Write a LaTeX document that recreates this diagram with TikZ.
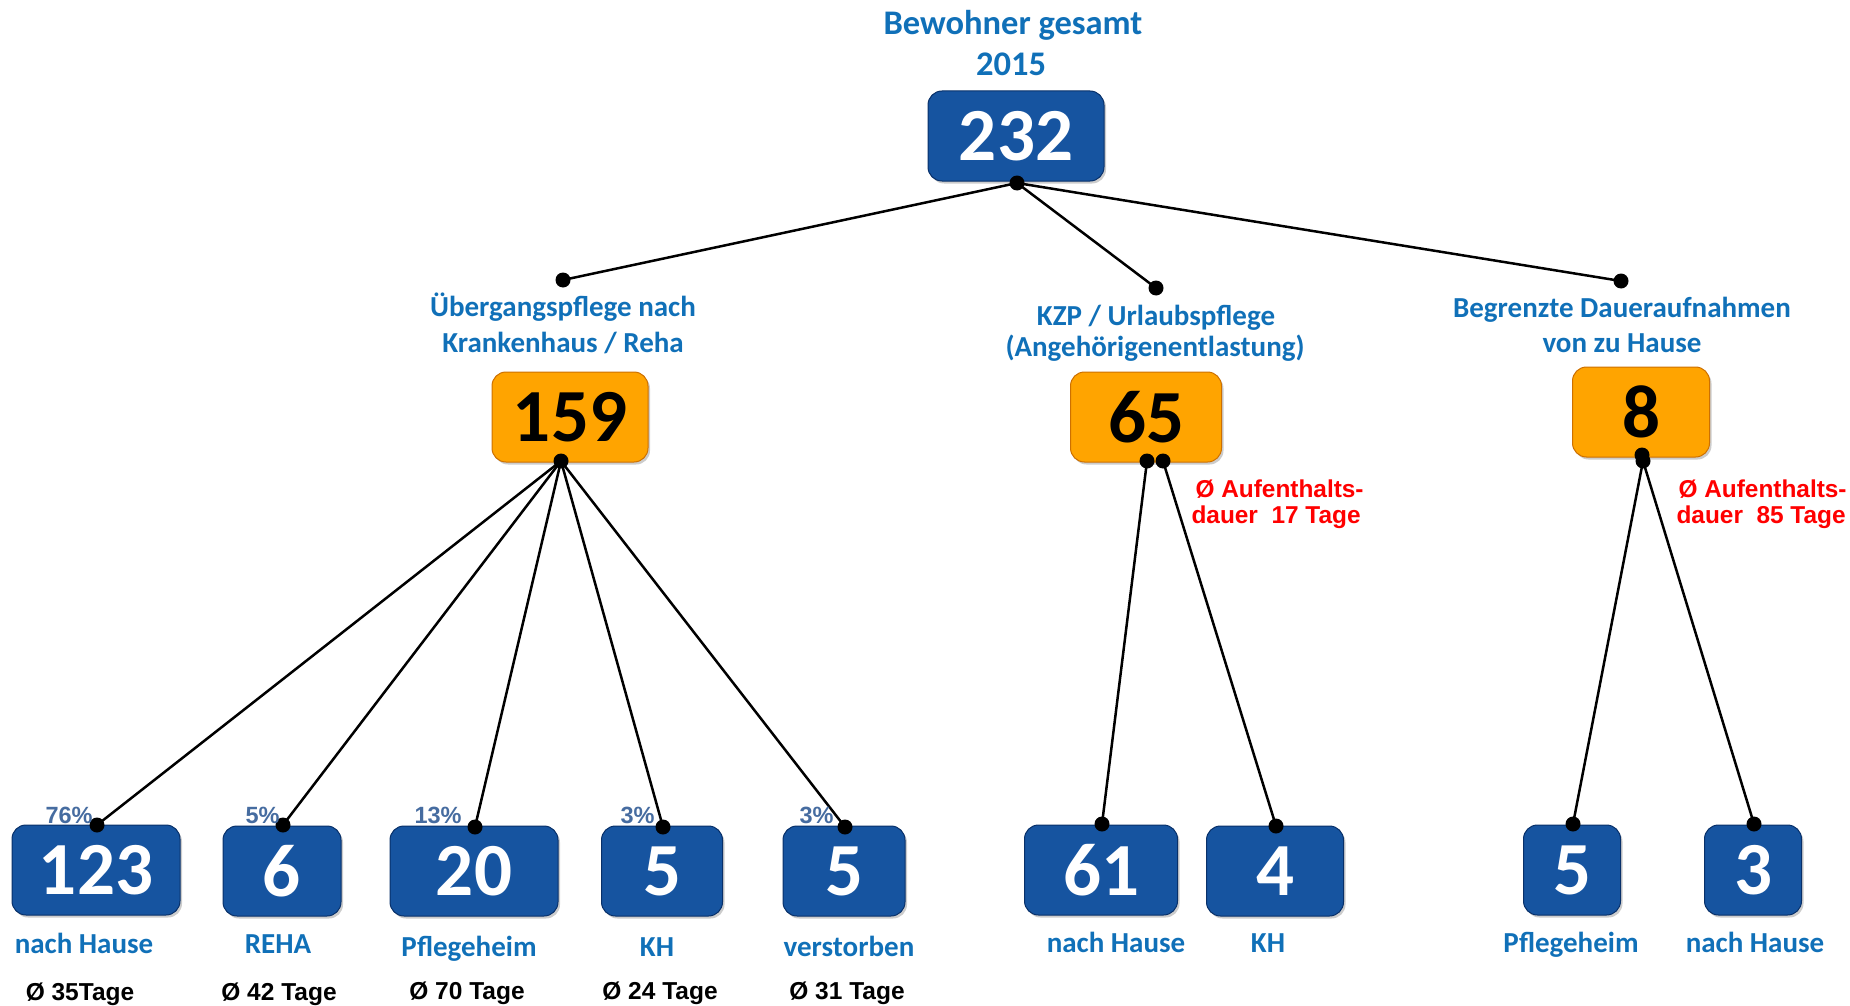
\documentclass[tikz,border=0pt]{standalone}
\usepackage{fontspec}
\setmainfont{Carlito}
\newfontfamily\arialf{Liberation Sans}
\usetikzlibrary{shadows}
\definecolor{bluemain}{RGB}{22,84,160}
\definecolor{bluedark}{RGB}{8,48,105}
\definecolor{bluelight}{RGB}{80,135,205}
\definecolor{orgmain}{RGB}{255,164,0}
\definecolor{orgdark}{RGB}{205,112,0}
\definecolor{orglight}{RGB}{255,205,80}
\definecolor{lblblue}{RGB}{16,112,184}
\definecolor{pctblue}{RGB}{70,108,160}
\definecolor{redtxt}{RGB}{255,0,0}
\pgfdeclareverticalshading{bluegloss}{100bp}{color(0bp)=(bluedark); color(14bp)=(bluemain); color(84bp)=(bluemain); color(93bp)=(bluelight); color(100bp)=(bluemain)}
\pgfdeclareverticalshading{orggloss}{100bp}{color(0bp)=(orgdark); color(14bp)=(orgmain); color(84bp)=(orgmain); color(93bp)=(orglight); color(100bp)=(orgmain)}
\begin{document}
\begin{tikzpicture}[x=1pt,y=-1pt,
  numbox/.style={rounded corners=14pt, inner sep=0pt, minimum height=90pt, minimum width=#1,
    font=\fontsize{75}{75}\selectfont\bfseries,
    drop shadow={shadow xshift=2pt, shadow yshift=-2.5pt, opacity=0.4}},
  bluebox/.style={numbox=#1, shading=bluegloss, draw=bluedark, line width=1pt, text=white},
  orgbox/.style={numbox=#1, shading=orggloss, draw=orgdark, line width=1pt, text=black},
  dot/.style={circle, fill=black, inner sep=0pt, minimum size=15pt},
  conn/.style={line width=2.5pt, black},
  ttl/.style={anchor=base, text=lblblue, font=\fontsize{34.5}{34.5}\selectfont\bfseries},
  mid/.style={anchor=base, text=lblblue, font=\fontsize{29}{29}\selectfont\bfseries},
  lbl/.style={anchor=base, text=lblblue, font=\fontsize{29}{29}\selectfont\bfseries},
  redl/.style={anchor=base west, text=redtxt, font=\arialf\fontsize{24.4}{24.4}\selectfont\bfseries},
  days/.style={anchor=base, text=black, font=\arialf\fontsize{24.5}{24.5}\selectfont\bfseries},
  pct/.style={anchor=base west, text=pctblue, font=\arialf\fontsize{23.5}{23.5}\selectfont\bfseries}
]
\useasboundingbox (0,0) rectangle (1850,1006);

% titles
\node[ttl] (t1) at (1013,35) {Bewohner gesamt};
\node[ttl] (t2) at (1011,76) {2015};

% boxes
\node[bluebox=176] (b232) at (1016,136) {232};
\node[orgbox=156] (b159) at (570,417) {159};
\node[orgbox=151] (b65) at (1146,417) {65};
\node[orgbox=137] (b8) at (1641,412) {8};

\node[bluebox=168] (b123) at (96,870) {123};
\node[bluebox=118] (b6) at (282,871) {6};
\node[bluebox=168] (b20) at (474,871) {20};
\node[bluebox=121] (b5a) at (662,871) {5};
\node[bluebox=122] (b5b) at (844,871) {5};
\node[bluebox=153] (b61) at (1101,870) {61};
\node[bluebox=137] (b4) at (1275,871) {4};
\node[bluebox=97] (b5c) at (1572,870) {5};
\node[bluebox=97] (b3) at (1753,870) {3};

% dots
\node[dot] (d0) at (1017,183) {};
\node[dot] (mL) at (563,280) {};
\node[dot] (mM) at (1156,288) {};
\node[dot] (mR) at (1621,281) {};
\node[dot] (d159) at (561,461) {};
\node[dot] (d65a) at (1147,461) {};
\node[dot] (d65b) at (1163,461) {};
\node[dot] (d8a) at (1642,455) {};
\node[dot] (d8b) at (1643,461) {};
\node[dot] (e123) at (97,825) {};
\node[dot] (e6) at (283,825) {};
\node[dot] (e20) at (475,827) {};
\node[dot] (e5a) at (663,827) {};
\node[dot] (e5b) at (845,827) {};
\node[dot] (e61) at (1102,824) {};
\node[dot] (e4) at (1276,826) {};
\node[dot] (e5c) at (1573,824) {};
\node[dot] (e3) at (1754,824) {};

% connectors
\draw[conn] (d0.center) -- (mL.center);
\draw[conn] (d0.center) -- (mM.center);
\draw[conn] (d0.center) -- (mR.center);
\draw[conn] (d159.center) -- (e123.center);
\draw[conn] (d159.center) -- (e6.center);
\draw[conn] (d159.center) -- (e20.center);
\draw[conn] (d159.center) -- (e5a.center);
\draw[conn] (d159.center) -- (e5b.center);
\draw[conn] (d65a.center) -- (e61.center);
\draw[conn] (d65b.center) -- (e4.center);
\draw[conn] (d8b.center) -- (e5c.center);
\draw[conn] (d8b.center) -- (e3.center);

% mid labels
\node[mid] (l1a) at (563,316) {Übergangspflege nach};
\node[mid] (l1b) at (563,352) {Krankenhaus / Reha};
\node[mid] (l2a) at (1156,325) {KZP / Urlaubspflege};
\node[mid] (l2b) at (1155,356) {(Angehörigenentlastung)};
\node[mid] (l3a) at (1622,317) {Begrenzte Daueraufnahmen};
\node[mid] (l3b) at (1622,352) {von zu Hause};

% red notes
\node[redl] (r1a) at (1192,497) {Ø Aufenthalts-};
\node[redl] (r1b) at (1188,523) {dauer\ \ 17 Tage};
\node[redl] (r2a) at (1675,497) {Ø Aufenthalts-};
\node[redl] (r2b) at (1673,523) {dauer\ \ 85 Tage};

% percentages
\node[pct] (p1) at (42,823) {76\%};
\node[pct] (p2) at (242,823) {5\%};
\node[pct] (p3) at (411,823) {13\%};
\node[pct] (p4) at (617,823) {3\%};
\node[pct] (p5) at (796,823) {3\%};

% bottom labels
\node[lbl] (n1) at (84,953) {nach Hause};
\node[lbl] (n2) at (278,953) {REHA};
\node[lbl] (n3) at (469,956) {Pflegeheim};
\node[lbl] (n4) at (657,956) {KH};
\node[lbl] (n5) at (849,956) {verstorben};
\node[lbl] (n6) at (1116,952) {nach Hause};
\node[lbl] (n7) at (1268,952) {KH};
\node[lbl] (n8) at (1571,952) {Pflegeheim};
\node[lbl] (n9) at (1755,952) {nach Hause};

% durations
\node[days] (a1) at (80,1000) {Ø 35Tage};
\node[days] (a2) at (279,1000) {Ø 42 Tage};
\node[days] (a3) at (467,999) {Ø 70 Tage};
\node[days] (a4) at (660,999) {Ø 24 Tage};
\node[days] (a5) at (847,999) {Ø 31 Tage};
\end{tikzpicture}
\end{document}
